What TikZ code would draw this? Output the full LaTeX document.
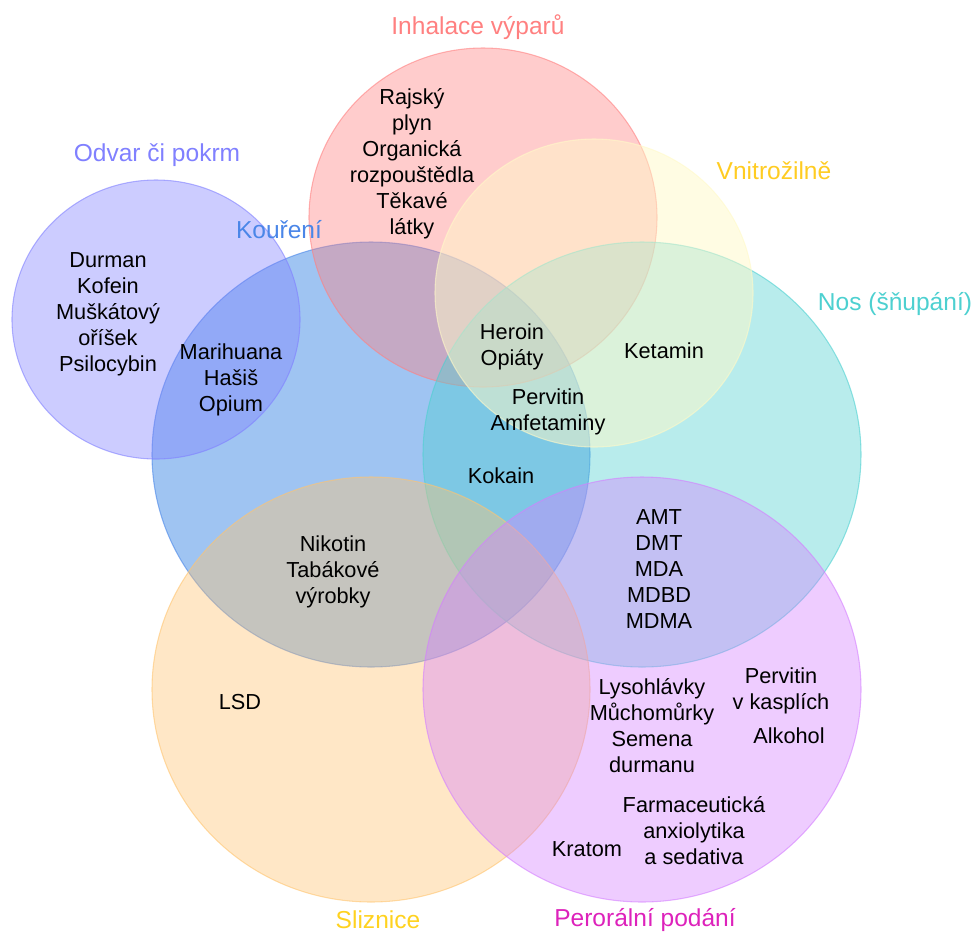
\documentclass[tikz,border=0pt]{standalone}
\usepackage{fontspec}
\setmainfont{Liberation Sans}
\definecolor{cInh}{HTML}{FF8080}
\definecolor{cOdv}{HTML}{8080FF}
\definecolor{cKou}{HTML}{4A86E8}
\definecolor{cKouF}{HTML}{3F8AE6}
\definecolor{cVni}{HTML}{FFCC22}
\definecolor{cVniF}{HTML}{FFF9C8}
\definecolor{cNos}{HTML}{4DD0D0}
\definecolor{cSli}{HTML}{FFD21F}
\definecolor{cSliF}{HTML}{FFC470}
\definecolor{cPer}{HTML}{DD22BB}
\definecolor{cPerF}{HTML}{D47FFF}
\tikzset{
  setbody/.style={line width=0.8pt, draw opacity=0.6},
  item/.style={font=\fontsize{16.3}{19.5}\selectfont, align=center, inner sep=0pt, text=black},
  setlabel/.style={font=\fontsize{18.4}{22}\selectfont, inner sep=0pt},
}
\begin{document}
\begin{tikzpicture}[x=0.75pt,y=-0.75pt]
\useasboundingbox (0,0) rectangle (975,933);
% circles (drawing order matters for the overlaps)
\draw[setbody, draw=cKou, fill=cKouF, fill opacity=0.5] (371,454.5) ellipse [x radius={219*0.75pt}, y radius={212.5*0.75pt}];
\draw[setbody, draw=cOdv, fill=cOdv, fill opacity=0.4] (156,319.5) ellipse [x radius={144*0.75pt}, y radius={139.5*0.75pt}];
\draw[setbody, draw=cInh, fill=cInh, fill opacity=0.4] (483,217.5) ellipse [x radius={174*0.75pt}, y radius={169.5*0.75pt}];
\draw[setbody, draw=cNos, fill=cNos, fill opacity=0.4] (642,454.5) ellipse [x radius={219*0.75pt}, y radius={212.5*0.75pt}];
\draw[setbody, draw=cVniF, fill=cVniF, fill opacity=0.5] (594,293) ellipse [x radius={159*0.75pt}, y radius={154*0.75pt}];
\draw[setbody, draw=cSliF, fill=cSliF, fill opacity=0.4] (371,689.5) ellipse [x radius={219*0.75pt}, y radius={212.5*0.75pt}];
\draw[setbody, draw=cPerF, fill=cPerF, fill opacity=0.4] (642,689.5) ellipse [x radius={219*0.75pt}, y radius={212.5*0.75pt}];
% set labels
\node[setlabel, text=cInh] (lInh) at (478,27) {Inhalace výparů};
\node[setlabel, text=cOdv] (lOdv) at (157,155) {Odvar či pokrm};
\node[setlabel, text=cKou] (lKou) at (279,230) {Kouření};
\node[setlabel, text=cVni] (lVni) at (774,171) {Vnitrožilně};
\node[setlabel, text=cNos] (lNos) at (895,304) {Nos (šňupání)};
\node[setlabel, text=cSli] (lSli) at (378,920) {Sliznice};
\node[setlabel, text=cPer] (lPer) at (645,920) {Perorální podání};
% items
\node[item] (tInh) at (412,164) {Rajský\\plyn\\Organická\\rozpouštědla\\Těkavé\\látky};
\node[item] (tOdv) at (108,314) {Durman\\Kofein\\Muškátový\\oříšek\\Psilocybin};
\node[item] (tMar) at (231,380) {Marihuana\\Hašiš\\Opium};
\node[item] (tHer) at (512,347) {Heroin\\Opiáty};
\node[item] (tKet) at (664,351) {Ketamin};
\node[item] (tPerv) at (548,412) {Pervitin\\Amfetaminy};
\node[item] (tKok) at (501,476) {Kokain};
\node[item] (tNik) at (333,572) {Nikotin\\Tabákové\\výrobky};
\node[item] (tAmt) at (659,569) {AMT\\DMT\\MDA\\MDBD\\MDMA};
\node[item] (tLsd) at (240,702) {LSD};
\node[item] (tLys) at (652,726) {Lysohlávky\\Můchomůrky\\Semena\\durmanu};
\node[item] (tPk) at (781,691) {Pervitin\\v kasplích};
\node[item] (tAlk) at (789,736) {Alkohol};
\node[item] (tFar) at (694,831) {Farmaceutická\\anxiolytika\\a sedativa};
\node[item] (tKra) at (587,849) {Kratom};
\end{tikzpicture}
\end{document}
